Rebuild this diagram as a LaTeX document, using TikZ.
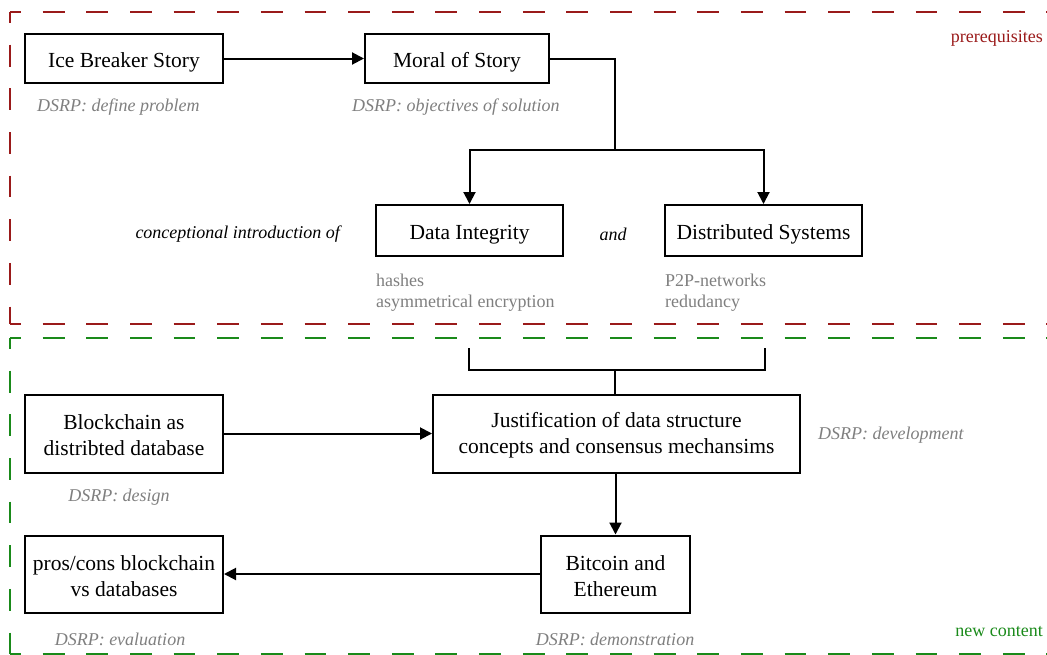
\documentclass[tikz,border=0pt]{standalone}
\usepackage{fontspec}
\setmainfont{Liberation Serif}
\usetikzlibrary{arrows.meta}
\definecolor{myred}{HTML}{9A1A1A}
\definecolor{mygreen}{HTML}{1A8A1A}
\definecolor{mygray}{HTML}{7F7F7F}
\newcommand{\topstrut}{\rule{0pt}{19pt}}
\tikzset{
  box/.style={draw=black, line width=2pt, fill=white, align=center, inner sep=2pt,
    font=\fontsize{21.5}{26}\selectfont},
  onebox/.style={box, text height=20pt, text depth=3pt},
  lbl/.style={inner sep=0pt, text=mygray, yshift=-2pt, font=\fontsize{18}{21}\itshape\selectfont},
  note/.style={inner sep=0pt, text=mygray, yshift=-2pt, align=left, font=\fontsize{18}{21}\selectfont},
  conn/.style={line width=2pt, draw=black},
  arr/.style={conn, -{Triangle[length=12pt,width=12pt]}},
  frame/.style={line width=2pt, dash pattern=on 21.82pt off 21.82pt, dash phase=10.91pt},
}
\begin{document}
\begin{tikzpicture}[x=1pt,y=-1pt]
\useasboundingbox (0,0) rectangle (1047,654);
\clip (0,0) rectangle (1047,654);
% frames
\draw[frame, myred] (10,12) -- (10,324);
\draw[frame, myred] (10,12) -- (1100,12);
\draw[frame, myred] (10,324) -- (1100,324);
\draw[frame, mygreen] (10,338) -- (10,653.5);
\draw[frame, mygreen] (10,338) -- (1100,338);
\draw[frame, mygreen] (10,653.5) -- (1100,653.5);
\node[anchor=east, inner sep=0pt, yshift=-2pt, text=myred, font=\fontsize{18}{21}\selectfont] (pre) at (1043,36) {prerequisites};
\node[anchor=east, inner sep=0pt, yshift=-2pt, text=mygreen, font=\fontsize{18}{21}\selectfont] (newc) at (1043,630) {new content};
% boxes
\node[onebox, minimum width=198pt, minimum height=49pt] (ice) at (124,58.5) {Ice Breaker Story};
\node[onebox, minimum width=184pt, minimum height=49pt] (moral) at (457,58.5) {Moral of Story};
\node[onebox, minimum width=187pt, minimum height=51pt] (di) at (469.5,230.5) {Data Integrity};
\node[onebox, minimum width=197pt, minimum height=51pt] (ds) at (763.5,230.5) {Distributed Systems};
\node[box, minimum width=198pt, minimum height=78pt] (bc) at (124,433.5) {\topstrut Blockchain as\\distribted database};
\node[box, minimum width=367pt, minimum height=78pt] (just) at (616.5,433.5) {\topstrut Justification of data structure\\concepts and consensus mechansims};
\node[box, minimum width=149pt, minimum height=77pt] (btc) at (615.5,574) {\topstrut Bitcoin and\\Ethereum};
\node[box, minimum width=198pt, minimum height=77pt] (pros) at (124,574) {\topstrut pros/cons blockchain\\vs databases};
% labels
\node[lbl, anchor=west] (l1) at (37,105) {DSRP: define problem};
\node[lbl, anchor=west] (l2) at (352,105) {DSRP: objectives of solution};
\node[inner sep=0pt, yshift=-2pt, font=\fontsize{18}{21}\itshape\selectfont, anchor=east] (conc) at (340,232) {conceptional introduction of};
\node[inner sep=0pt, yshift=-2pt, font=\fontsize{18}{21}\itshape\selectfont] (and) at (613,232) {and};
\node[note, anchor=west] (n1) at (376,291) {hashes\\asymmetrical encryption};
\node[note, anchor=west] (n2) at (665,291) {P2P-networks\\redudancy};
\node[lbl, anchor=west] (l3) at (818,433) {DSRP: development};
\node[lbl] (l4) at (119,495) {DSRP: design};
\node[lbl] (l5) at (120,637) {DSRP: evaluation};
\node[lbl] (l6) at (615,637) {DSRP: demonstration};
% connectors
\coordinate (s1) at (615,150);
\coordinate (b1) at (469,348);
\coordinate (b2) at (765,348);
\coordinate (b3) at (615,370);
\draw[arr] (ice) -- (moral);
\draw[conn] (moral.east) -| (s1);
\draw[arr] (s1) -| (di.north);
\draw[arr] (s1) -| (ds.north);
\draw[conn] (b1) |- (b3) -| (b2);
\draw[conn] (b3) -- (b3 |- just.north);
\draw[arr] (bc) -- (bc.east -| just.west);
\draw[arr] (just.south -| btc.north) -- (btc.north);
\draw[arr] (btc) -- (btc.west -| pros.east);
\end{tikzpicture}
\end{document}
